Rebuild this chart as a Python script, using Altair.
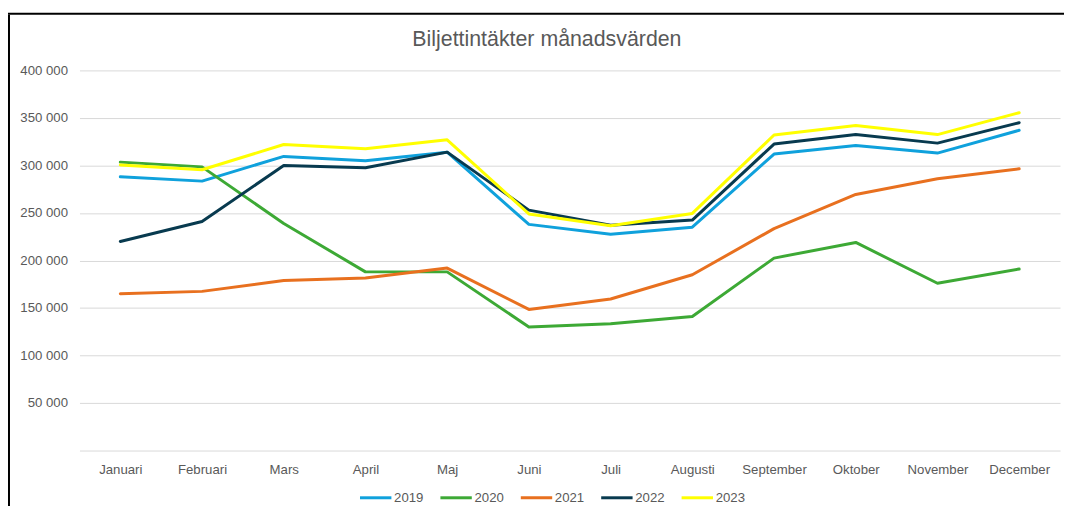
import altair as alt
import pandas as pd

months = ["Januari", "Februari", "Mars", "April", "Maj", "Juni", "Juli",
          "Augusti", "September", "Oktober", "November", "December"]
years = ["2019", "2020", "2021", "2022", "2023"]
v2019 = [288000, 283500, 309500, 305000, 314000, 238000, 227500, 235000, 312000, 321000, 313000, 337000]
v2020 = [303500, 298500, 239000, 188000, 188000, 130000, 133500, 141000, 202500, 219000, 176000, 191000]
v2021 = [165000, 167500, 179000, 181500, 192000, 148500, 159500, 185000, 233500, 269500, 286000, 296500]
v2022 = [220000, 241000, 300000, 297500, 314000, 253000, 237000, 242500, 322500, 332500, 323500, 345000]
v2023 = [300500, 295500, 322000, 317500, 327000, 249000, 236500, 249500, 332000, 342000, 332500, 355500]
colors = ["#0FA1DC", "#3DA935", "#E8701F", "#083A4F", "#FFFF00"]
y_ticks = [0, 50000, 100000, 150000, 200000, 250000, 300000, 350000, 400000]

series = [v2019, v2020, v2021, v2022, v2023]
rows = []
for yr, vals in zip(years, series):
    for m, v in zip(months, vals):
        rows.append({"Månad": m, "År": yr, "Värde": v})
df = pd.DataFrame(rows)

W, H = 988, 383
PAD = {"left": 72, "top": 61, "right": 4, "bottom": 56}
FONT = "Liberation Sans"
GREY = "#595959"
FS = 13.3

lines = alt.Chart(df).mark_line(strokeWidth=3, strokeJoin="round", strokeCap="round").encode(
    x=alt.X("Månad:N", sort=months, scale=alt.Scale(padding=0.5),
            axis=alt.Axis(title=None, labelAngle=0, ticks=False, domain=False, grid=False,
                          labelPadding=12, labelFontSize=FS, labelColor=GREY, labelFont=FONT)),
    y=alt.Y("Värde:Q", scale=alt.Scale(domain=[0, 400000], nice=False),
            axis=alt.Axis(title=None, values=y_ticks, ticks=False, domain=False,
                          gridColor="#D9D9D9", gridWidth=1, labelPadding=12,
                          labelFontSize=FS, labelColor=GREY, labelFont=FONT,
                          labelExpr="datum.value == 0 ? '' : replace(format(datum.value, ','), ',', ' ')")),
    color=alt.Color("År:N", sort=years, scale=alt.Scale(domain=years, range=colors),
                    legend=alt.Legend(title=None, orient="none", direction="horizontal",
                                      legendX=281, legendY=413, symbolType="stroke",
                                      symbolSize=1000, symbolStrokeWidth=3, labelOffset=1,
                                      columnPadding=10, labelFontSize=FS, labelColor=GREY,
                                      labelFont=FONT)),
)

frame_df = pd.DataFrame({"k": [0]})
left_border = alt.Chart(frame_df).mark_rule(color="black", strokeWidth=2).encode(
    x=alt.value(-71), y=alt.value(-56), y2=alt.value(H + PAD["bottom"]))
top_border = alt.Chart(frame_df).mark_rule(color="black", strokeWidth=2).encode(
    x=alt.value(-72), x2=alt.value(W + PAD["right"]), y=alt.value(-57))

chart = alt.layer(lines, left_border, top_border).properties(
    width=W, height=H,
    autosize=alt.AutoSizeParams(type="none"),
    padding=PAD,
    title=alt.TitleParams("Biljettintäkter månadsvärden", fontSize=21.5, font=FONT,
                          color=GREY, fontWeight="normal", anchor="middle",
                          offset=-38, dx=-23),
).configure_view(stroke=None)

chart.save("out.html", embed_options={"renderer": "svg", "actions": False})
